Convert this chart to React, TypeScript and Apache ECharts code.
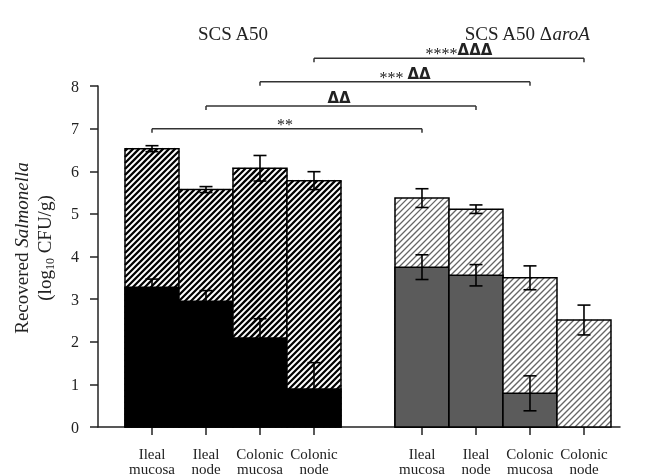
import React, { useEffect, useRef } from 'react';
import * as echarts from 'echarts';

// ---- data ----
const categories = ['Ileal\nmucosa', 'Ileal\nnode', 'Colonic\nmucosa', 'Colonic\nnode', 'Ileal\nmucosa', 'Ileal\nnode', 'Colonic\nmucosa', 'Colonic\nnode'];
const positions = [0, 1, 2, 3, 5, 6, 7, 8];
const groupIndex = [0, 0, 0, 0, 1, 1, 1, 1];
const hatchValues = [6.53, 5.57, 6.07, 5.78, 5.37, 5.11, 3.5, 2.51];
const hatchErrors = [0.07, 0.07, 0.3, 0.21, 0.22, 0.1, 0.28, 0.35];
const solidValues = [3.28, 2.95, 2.09, 0.89, 3.75, 3.56, 0.79, 0];
const solidErrors = [0.19, 0.25, 0.45, 0.62, 0.29, 0.25, 0.41, 0];
const yTicks = [0, 1, 2, 3, 4, 5, 6, 7, 8];
const bracketFrom = [0, 1, 2, 3];
const bracketTo = [5, 6, 7, 8];
const bracketLevels = [7.0, 7.53, 8.1, 8.65];
const bracketStars = ['**', '', '***', '****'];
const bracketDeltas = ['', 'ΔΔ', 'ΔΔ', 'ΔΔΔ'];
const groupTitles = ['SCS A50', 'SCS A50 ΔaroA'];

const SERIF = '"Liberation Serif", "DejaVu Serif", serif';

export default function App() {
  const ref = useRef<HTMLDivElement>(null);
  useEffect(() => {
    if (!ref.current) return;
    const chart = echarts.init(ref.current, null, { renderer: 'svg' });

    const barData = positions.map((p, i) => [p, hatchValues[i], hatchErrors[i], solidValues[i], solidErrors[i], groupIndex[i]]);
    const bracketData = bracketFrom.map((f, i) => [f, bracketLevels[i], bracketTo[i], i]);

    const hatchStyle = [
      { stroke: '#000', lineWidth: 2.3 },
      { stroke: '#666', lineWidth: 1.3 },
    ];
    const solidColor = ['#000', '#5b5b5b'];

    const renderBar = (params: any, api: any) => {
      const k = api.value(0);
      const hv = api.value(1);
      const he = api.value(2);
      const sv = api.value(3);
      const se = api.value(4);
      const g = api.value(5);
      const p0 = api.coord([k - 0.5, 0]);
      const p1 = api.coord([k + 0.5, hv]);
      const xl = p0[0], y0 = p0[1], xr = p1[0], yh = p1[1];
      const xc = (xl + xr) / 2;
      const children: any[] = [];
      children.push({ type: 'rect', shape: { x: xl, y: yh, width: xr - xl, height: y0 - yh }, style: { fill: '#fff' } });
      const s = 6;
      const hs = hatchStyle[g];
      const cStart = Math.ceil((xl + yh) / s) * s;
      for (let c = cStart; c <= xr + y0; c += s) {
        const xa = Math.max(xl, c - y0);
        const xb = Math.min(xr, c - yh);
        if (xb - xa < 0.3) continue;
        children.push({ type: 'line', shape: { x1: xa, y1: c - xa, x2: xb, y2: c - xb }, style: { stroke: hs.stroke, lineWidth: hs.lineWidth } });
      }
      children.push({ type: 'rect', shape: { x: xl, y: yh, width: xr - xl, height: y0 - yh }, style: { fill: 'none', stroke: '#000', lineWidth: 1.5 } });
      if (sv > 0) {
        const ys = api.coord([k, sv])[1];
        children.push({ type: 'rect', shape: { x: xl, y: ys, width: xr - xl, height: y0 - ys }, style: { fill: solidColor[g], stroke: '#000', lineWidth: 1.5 } });
      }
      const err = (v: number, e: number) => {
        if (e <= 0) return;
        const yt = api.coord([k, v + e])[1];
        const yb = api.coord([k, v - e])[1];
        const st = { stroke: '#000', lineWidth: 1.6 };
        children.push({ type: 'line', shape: { x1: xc, y1: yt, x2: xc, y2: yb }, style: st });
        children.push({ type: 'line', shape: { x1: xc - 6.5, y1: yt, x2: xc + 6.5, y2: yt }, style: st });
        children.push({ type: 'line', shape: { x1: xc - 6.5, y1: yb, x2: xc + 6.5, y2: yb }, style: st });
      };
      err(hv, he);
      if (sv > 0) err(sv, se);
      return { type: 'group', children };
    };

    const renderBracket = (params: any, api: any) => {
      const i = api.value(3);
      const a = api.coord([api.value(0), api.value(1)]);
      const b = api.coord([api.value(2), api.value(1)]);
      const stars = bracketStars[i];
      const deltas = bracketDeltas[i];
      let text = '';
      if (stars) text += '{s|' + stars + '}';
      if (stars && deltas && stars.length < 4) text += '{s| }';
      if (deltas) text += '{d|' + deltas + '}';
      const st = { stroke: '#333', lineWidth: 1.5 };
      return {
        type: 'group',
        children: [
          { type: 'line', shape: { x1: a[0], y1: a[1], x2: b[0], y2: b[1] }, style: st },
          { type: 'line', shape: { x1: a[0], y1: a[1], x2: a[0], y2: a[1] + 4 }, style: st },
          { type: 'line', shape: { x1: b[0], y1: b[1], x2: b[0], y2: b[1] + 4 }, style: st },
          {
            type: 'text',
            style: {
              x: (a[0] + b[0]) / 2 + (stars && deltas ? 10 : -2),
              y: a[1] - 2,
              text,
              align: 'center',
              verticalAlign: 'bottom',
              rich: {
                s: { fontFamily: SERIF, fontSize: 16, lineHeight: 12, fill: '#222', padding: [7, 0, 0, 0] },
                d: { fontFamily: '"DejaVu Sans", sans-serif', fontSize: 15, fontWeight: 'bold', lineHeight: 12, fill: '#222' },
              },
            },
          },
        ],
      };
    };

    chart.setOption({
      animation: false,
      grid: { left: 98, right: 27, top: 86, bottom: 47 },
      xAxis: {
        type: 'value',
        min: -1,
        max: 8.667,
        splitLine: { show: false },
        axisLine: { show: true, onZero: false, lineStyle: { color: '#222', width: 1.5 } },
        axisTick: { show: true, customValues: positions, length: 8, lineStyle: { color: '#222', width: 1.5 } },
        axisLabel: {
          customValues: positions,
          formatter: (v: number) => {
            const i = positions.indexOf(Math.round(v));
            return i >= 0 ? categories[i] : '';
          },
          fontFamily: SERIF,
          fontSize: 15,
          lineHeight: 15,
          margin: 19,
          color: '#222',
        },
      },
      yAxis: {
        type: 'value',
        min: yTicks[0],
        max: yTicks[yTicks.length - 1],
        interval: 1,
        splitLine: { show: false },
        axisLine: { show: true, onZero: false, lineStyle: { color: '#222', width: 1.5 } },
        axisTick: { show: true, length: 8, lineStyle: { color: '#222', width: 1.5 } },
        axisLabel: { fontFamily: SERIF, fontSize: 16, margin: 19, color: '#222' },
      },
      graphic: [
        { type: 'text', x: 233, y: 33, style: { text: groupTitles[0], font: '19px ' + SERIF, fill: '#222', align: 'center', verticalAlign: 'middle' } },
        {
          type: 'text', x: 527, y: 33,
          style: {
            text: '{n|SCS A50 Δ}{i|aroA}',
            align: 'center', verticalAlign: 'middle',
            rich: {
              n: { fontFamily: SERIF, fontSize: 19, lineHeight: 19, fill: '#222' },
              i: { fontFamily: SERIF, fontSize: 19, lineHeight: 19, fontStyle: 'italic', fill: '#222' },
            },
          },
        },
        {
          type: 'text', x: 33, y: 248, rotation: Math.PI / 2,
          style: {
            text: '{n|Recovered }{i|Salmonella}\n{n|(log}{b|10}{n| CFU/g)}',
            align: 'center', verticalAlign: 'middle',
            rich: {
              n: { fontFamily: SERIF, fontSize: 19, lineHeight: 23, fill: '#222' },
              i: { fontFamily: SERIF, fontSize: 19, lineHeight: 23, fontStyle: 'italic', fill: '#222' },
              b: { fontFamily: SERIF, fontSize: 12, lineHeight: 12, verticalAlign: 'bottom', fill: '#222' },
            },
          },
        },
      ],
      series: [
        { type: 'custom', renderItem: renderBar, data: barData, encode: { x: 0, y: 1 }, clip: false, z: 2 },
        { type: 'custom', renderItem: renderBracket, data: bracketData, encode: { x: 0, y: 1 }, clip: false, z: 3 },
      ],
    });
    return () => chart.dispose();
  }, []);
  return <div ref={ref} style={{ position: 'fixed', left: 0, top: 0, width: 647, height: 476 }} />;
}
